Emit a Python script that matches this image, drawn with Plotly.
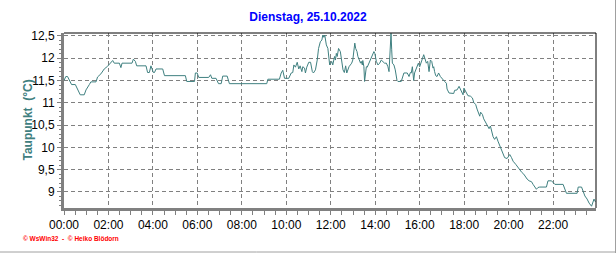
import plotly.graph_objects as go

# time in hours since midnight, dew point in °C
hours = [
    0.00, 0.08, 0.16, 0.27, 0.34, 0.51, 0.73, 0.91, 0.99, 1.14, 1.21, 1.44, 1.51, 1.66, 1.81, 1.96,
    2.11, 2.19, 2.26, 2.49, 2.56, 2.61, 3.06, 3.12, 3.21, 3.27, 3.69, 3.76, 3.84, 3.91, 4.02, 4.07,
    4.14, 4.44, 4.52, 5.46, 5.52, 5.87, 5.91, 5.99, 6.06, 6.51, 6.59, 6.65, 6.84, 6.95, 7.07, 7.14,
    7.34, 7.44, 9.12, 9.17, 9.69, 9.77, 9.84, 9.92, 10.11, 10.22, 10.29, 10.34, 10.41, 10.49, 10.56,
    10.62, 10.70, 10.74, 10.82, 10.86, 10.92, 11.01, 11.09, 11.17, 11.22, 11.31, 11.39, 11.45, 11.53,
    11.60, 11.64, 11.69, 11.73, 11.80, 11.87, 11.91, 11.95, 11.99, 12.04, 12.09, 12.17, 12.21, 12.25,
    12.29, 12.35, 12.43, 12.49, 12.55, 12.61, 12.67, 12.72, 12.79, 12.82, 12.88, 12.94, 12.99, 13.04,
    13.08, 13.12, 13.18, 13.22, 13.30, 13.34, 13.37, 13.42, 13.44, 13.49, 13.52, 13.57, 13.60, 13.64,
    13.71, 13.79, 13.85, 13.89, 13.94, 13.98, 14.05, 14.12, 14.20, 14.27, 14.35, 14.42, 14.50, 14.57,
    14.62, 14.65, 14.68, 14.71, 14.74, 14.77, 14.84, 14.90, 14.98, 15.02, 15.17, 15.25, 15.29, 15.44,
    15.52, 15.58, 15.62, 15.67, 15.73, 15.77, 15.82, 15.88, 15.94, 16.00, 16.04, 16.10, 16.18, 16.24,
    16.30, 16.36, 16.42, 16.48, 16.54, 16.60, 16.63, 16.67, 16.72, 16.78, 16.85, 16.93, 17.02, 17.12,
    17.20, 17.23, 17.32, 17.42, 17.53, 17.57, 17.68, 17.77, 17.83, 17.90, 17.95, 17.99, 18.04, 18.10,
    18.17, 18.28, 18.37, 18.43, 18.52, 18.58, 18.64, 18.70, 18.74, 18.82, 18.88, 18.97, 19.03, 19.12,
    19.18, 19.25, 19.30, 19.37, 19.45, 19.52, 19.60, 19.68, 19.75, 19.82, 19.93, 20.02, 20.05, 20.13,
    20.20, 20.32, 20.42, 20.53, 20.59, 20.68, 20.77, 20.83, 20.92, 21.03, 21.10, 21.18, 21.25, 21.32,
    21.40, 21.70, 21.77, 21.93, 22.00, 22.08, 22.45, 22.53, 22.60, 23.08, 23.13, 23.28, 23.35, 23.43,
    23.53, 23.62, 23.73, 23.80, 23.84, 23.90,
]
dewpoint = [
    11.50, 11.59, 11.59, 11.47, 11.41, 11.41, 11.18, 11.18, 11.29, 11.41, 11.47, 11.47, 11.58, 11.65, 11.76, 11.82,
    11.89, 11.95, 11.89, 11.89, 11.79, 11.89, 11.89, 11.98, 11.93, 11.83, 11.83, 11.68, 11.68, 11.83, 11.68, 11.68,
    11.76, 11.76, 11.61, 11.61, 11.48, 11.48, 11.67, 11.67, 11.57, 11.57, 11.63, 11.55, 11.55, 11.43, 11.43, 11.60,
    11.60, 11.43, 11.43, 11.53, 11.53, 11.67, 11.73, 11.55, 11.55, 11.67, 11.68, 11.85, 11.80, 11.91, 11.76,
    11.83, 11.70, 11.81, 11.78, 11.67, 11.80, 11.91, 11.91, 11.70, 11.67, 11.74, 11.96, 12.22, 12.37,
    12.41, 12.52, 12.47, 12.52, 12.30, 12.22, 12.08, 11.85, 11.88, 11.93, 11.85, 12.04, 11.96, 12.11,
    12.04, 12.22, 12.15, 11.93, 11.74, 11.68, 11.83, 11.67, 11.78, 11.81, 11.85, 11.89, 11.96, 12.19,
    12.34, 12.22, 12.15, 12.04, 11.96, 11.89, 11.93, 11.85, 11.95, 11.81, 11.48, 11.63, 11.81, 11.80,
    11.89, 11.96, 12.04, 12.08, 12.15, 12.11, 11.93, 11.85, 11.89, 11.96, 11.93, 11.89, 11.89, 11.81,
    11.70, 12.04, 12.34, 12.56, 12.19, 11.89, 11.85, 11.74, 11.50, 11.48, 11.48, 11.59, 11.67, 11.67,
    11.59, 11.68, 11.67, 11.81, 11.50, 11.67, 11.74, 11.81, 11.89, 11.81, 11.89, 11.96, 12.08, 11.96,
    11.89, 11.93, 11.70, 11.96, 11.93, 11.78, 11.81, 11.70, 11.61, 11.59, 11.67, 11.59, 11.53, 11.48,
    11.44, 11.31, 11.22, 11.21, 11.21, 11.28, 11.29, 11.37, 11.31, 11.22, 11.18, 11.33, 11.29, 11.22,
    11.16, 11.15, 11.11, 11.01, 10.96, 10.86, 10.77, 10.70, 10.79, 10.74, 10.64, 10.55, 10.48, 10.42,
    10.48, 10.34, 10.24, 10.18, 10.24, 10.14, 10.04, 9.96, 9.88, 9.77, 9.75, 9.81, 9.84, 9.77,
    9.69, 9.62, 9.55, 9.50, 9.44, 9.40, 9.32, 9.29, 9.25, 9.23, 9.17, 9.12, 9.06, 9.10,
    9.11, 9.11, 9.25, 9.25, 9.21, 9.17, 9.17, 9.08, 8.97, 8.97, 9.11, 9.11, 9.02, 8.91,
    8.84, 8.75, 8.68, 8.77, 8.84, 8.78,
]

x_tickvals = [0, 2, 4, 6, 8, 10, 12, 14, 16, 18, 20, 22]
x_ticktext = ["00:00", "02:00", "04:00", "06:00", "08:00", "10:00",
              "12:00", "14:00", "16:00", "18:00", "20:00", "22:00"]
y_tickvals = [9, 9.5, 10, 10.5, 11, 11.5, 12, 12.5]
y_ticktext = ["9", "9,5", "10", "10,5", "11", "11,5", "12", "12,5"]

title_text = "Dienstag, 25.10.2022"
y_title = "Taupunkt  (°C)"
credit = "© WsWin32  -  © Heiko Blödorn"

LINE = "#3f8080"
GRID = "#808080"
FONT = "Liberation Sans, Arial, sans-serif"

fig = go.Figure()
fig.add_trace(go.Scatter(x=hours, y=dewpoint, mode="lines",
                         line=dict(color=LINE, width=1), hoverinfo="skip",
                         showlegend=False))

fig.update_layout(
    width=616, height=253,
    margin=dict(l=64, r=20, t=33, b=45),
    paper_bgcolor="white", plot_bgcolor="white",
    font=dict(family=FONT, size=12, color="black"),
    title=dict(text=title_text, x=0.5, xref="container", xanchor="center",
               y=1 - 17 / 253, yref="container", yanchor="middle",
               font=dict(family=FONT, size=12, color="#0000ff", weight="bold")),
    showlegend=False,
)

fig.update_xaxes(
    range=[0, 23.93], tickvals=x_tickvals, ticktext=x_ticktext,
    showgrid=True, gridcolor=GRID, gridwidth=1, griddash="4px,3px",
    showline=True, linecolor="#808080", linewidth=3,
    ticks="outside", ticklen=4, tickcolor="#808080", tickwidth=1,
    minor=dict(dtick=0.5, tick0=0, ticks="outside", ticklen=4,
               tickcolor="#808080", showgrid=False),
    zeroline=False, fixedrange=True,
    tickfont=dict(family=FONT, size=12, color="black"),
)
fig.update_yaxes(
    range=[8.64, 12.567], tickvals=y_tickvals, ticktext=y_ticktext,
    showgrid=True, gridcolor=GRID, gridwidth=1, griddash="4px,3px",
    showline=True, linecolor="#808080", linewidth=3,
    ticks="outside", ticklen=4, tickcolor="#808080", tickwidth=1,
    minor=dict(dtick=0.1, tick0=0, ticks="outside", ticklen=2,
               tickcolor="#808080", showgrid=False),
    zeroline=False, fixedrange=True,
    tickfont=dict(family=FONT, size=12, color="black"),
)

# black frame on top and right of plot area
fig.add_shape(type="line", xref="paper", yref="paper", x0=0, x1=1, y0=1, y1=1,
              line=dict(color="black", width=1))
fig.add_shape(type="line", xref="paper", yref="paper", x0=1, x1=1, y0=0, y1=1,
              line=dict(color="black", width=1))
# outer window border (right and bottom)
fig.add_shape(type="line", xref="paper", yref="paper",
              x0=(0 - 64) / 532, x1=(616 - 64) / 532, y0=-(252 - 208) / 175, y1=-(252 - 208) / 175,
              line=dict(color="#a0a0a0", width=1))
fig.add_shape(type="line", xref="paper", yref="paper",
              x0=(615.5 - 64) / 532, x1=(615.5 - 64) / 532, y0=-(253 - 208) / 175, y1=(208 - 0) / 175,
              line=dict(color="#a0a0a0", width=1))

fig.add_annotation(text=y_title, textangle=-90, xref="paper", yref="paper",
                   x=(27 - 64) / 532, y=0.5, xanchor="center", yanchor="middle",
                   showarrow=False,
                   font=dict(family=FONT, size=12, color=LINE, weight="bold"))
fig.add_annotation(text=credit, xref="paper", yref="paper",
                   x=(21 - 64) / 532, y=-(238 - 208) / 175, xanchor="left", yanchor="middle",
                   showarrow=False,
                   font=dict(family=FONT, size=6.5, color="#ff0000", weight="bold"))

fig.write_html("out.html")
